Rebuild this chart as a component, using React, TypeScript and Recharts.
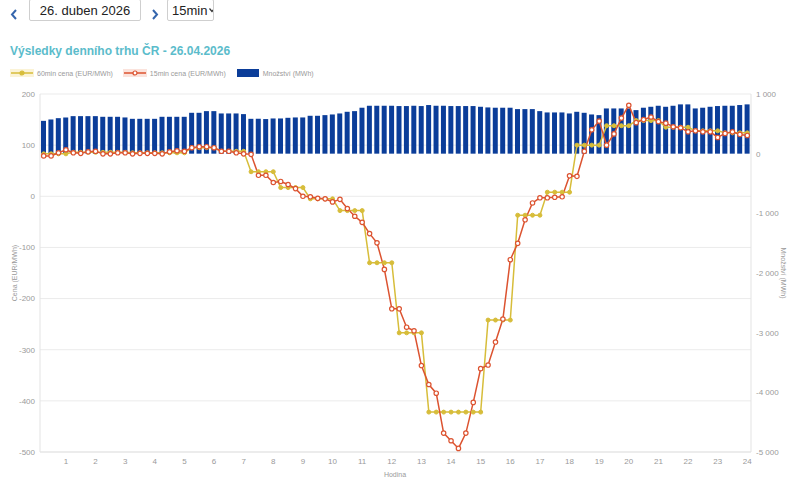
import { ComposedChart, Bar, Line, XAxis, YAxis, CartesianGrid } from "recharts";

// hour labels on the x axis, each hour split into four quarters
const HOURS = [
  "1", "2", "3", "4", "5", "6", "7", "8", "9", "10", "11", "12",
  "13", "14", "15", "16", "17", "18", "19", "20", "21", "22", "23", "24",
];
const QUARTERS = ["15", "30", "45", "60"];

// 60min price per hour (EUR/MWh)
const PRICE_60 = [
  83, 86, 86, 85, 85, 95, 88, 48, 17, -5, -28, -130,
  -267, -422, -422, -242, -37, 8, 100, 138, 148, 135, 128, 124,
];

// 15min price per quarter (EUR/MWh)
const PRICE_15 = [
  79, 79, 85, 91, 85, 84, 87, 88,
  83, 83, 85, 85, 83, 84, 84, 84,
  83, 87, 89, 88, 95, 97, 97, 95,
  88, 88, 85, 83, 82, 41, 41, 27,
  29, 23, 15, 0, -1, -4, -5, -11,
  -6, -24, -39, -51, -73, -91, -143, -220,
  -220, -256, -263, -331, -368, -385, -463, -478,
  -493, -463, -403, -337, -330, -285, -240, -124,
  -92, -46, -13, -3, -3, -2, -1, 40,
  39, 88, 130, 147, 100, 122, 153, 178,
  144, 150, 155, 146, 143, 136, 134, 126,
  128, 126, 126, 115, 123, 126, 121, 119,
];

// traded volume per quarter (MWh)
const VOLUME = [
  550, 573, 595, 607, 629, 629, 629, 629, 618, 618, 618, 607,
  584, 584, 584, 584, 618, 618, 618, 618, 685, 685, 713, 713,
  674, 674, 674, 663, 584, 584, 580, 590, 590, 601, 607, 607,
  635, 635, 646, 657, 674, 702, 713, 770, 803, 803, 803, 803,
  798, 798, 803, 798, 815, 803, 803, 798, 798, 798, 798, 786,
  775, 770, 770, 770, 747, 747, 747, 713, 691, 691, 691, 674,
  702, 685, 657, 646, 758, 758, 758, 758, 730, 770, 786, 803,
  786, 803, 826, 826, 758, 770, 786, 798, 803, 803, 815, 826,
];

const PRICE_TICKS = [-500, -400, -300, -200, -100, 0, 100, 200];
const VOLUME_TICKS = [-5000, -4000, -3000, -2000, -1000, 0, 1000];

const YELLOW = "#d7bd3a";
const RED = "#dc5330";
const BLUE = "#0b3d99";
const TEAL = "#5bbccb";
const AXIS_TEXT = "#9a9a9a";
const FONT = "'Liberation Sans', Arial, sans-serif";

const data = HOURS.flatMap((h, hi) =>
  QUARTERS.map((q, qi) => {
    const i = hi * 4 + qi;
    return {
      slot: `${h}-${q}`,
      p60: PRICE_60[hi],
      p15: PRICE_15[i],
      volume: VOLUME[i],
    };
  })
);

const hourTicks = HOURS.map((h) => `${h}-60`);

// "1 000" style with a non-breaking space so the tick text never wraps
const fmtVolume = (v: number) => {
  const s = Math.abs(v).toString().replace(/\B(?=(\d{3})+(?!\d))/g, "\u00a0");
  return v < 0 ? `-${s}` : s;
};

const tickStyle = { fontSize: 8, fill: AXIS_TEXT, fontFamily: FONT };

function Chevron({ dir }: { dir: "left" | "right" }) {
  const pts = dir === "left" ? "6,1 2,5.5 6,10" : "2,1 6,5.5 2,10";
  return (
    <svg width={8} height={11}>
      <polyline points={pts} fill="none" stroke="#3566ad" strokeWidth={2} />
    </svg>
  );
}

function LegendItem({ kind, text }: { kind: "yellow" | "red" | "bar"; text: string }) {
  return (
    <div style={{ display: "flex", alignItems: "center", marginRight: 10 }}>
      <svg width={24} height={10} style={{ marginRight: 3 }}>
        {kind === "bar" ? (
          <rect x={1} y={1} width={22} height={8} fill={BLUE} />
        ) : (
          <>
            <rect x={0} y={1} width={24} height={8} fill={kind === "yellow" ? "#fbf3d6" : "#fbe3dc"} />
            <line x1={1} y1={5} x2={23} y2={5} stroke={kind === "yellow" ? YELLOW : RED} strokeWidth={1.5} />
            <circle
              cx={12}
              cy={5}
              r={2}
              fill={kind === "yellow" ? YELLOW : "#fff"}
              stroke={kind === "yellow" ? YELLOW : RED}
              strokeWidth={1.2}
            />
          </>
        )}
      </svg>
      <span style={{ fontSize: 7, color: AXIS_TEXT }}>{text}</span>
    </div>
  );
}

export default function App() {
  return (
    <div
      style={{
        position: "absolute",
        left: 0,
        top: 0,
        width: 800,
        height: 482,
        background: "#fff",
        fontFamily: FONT,
        overflow: "hidden",
      }}
    >
      {/* date picker row */}
      <div style={{ position: "absolute", left: 10, top: 6 }}>
        <Chevron dir="left" />
      </div>
      <div
        style={{
          position: "absolute",
          left: 29,
          top: -1,
          width: 112,
          height: 22,
          border: "1px solid #cfcfcf",
          borderRadius: 2,
          boxSizing: "border-box",
          display: "flex",
          alignItems: "center",
          justifyContent: "center",
          fontSize: 13,
          color: "#222",
        }}
      >
        26. duben 2026
      </div>
      <div style={{ position: "absolute", left: 151, top: 6 }}>
        <Chevron dir="right" />
      </div>
      <div
        style={{
          position: "absolute",
          left: 167,
          top: -1,
          width: 47,
          height: 22,
          border: "1px solid #cfcfcf",
          borderRadius: 2,
          boxSizing: "border-box",
          display: "flex",
          alignItems: "center",
          paddingLeft: 4,
          fontSize: 13,
          color: "#222",
        }}
      >
        15min
        <svg width={6} height={5} style={{ marginLeft: 2 }}>
          <polyline points="0.5,0.5 3,3.5 5.5,0.5" fill="none" stroke="#333" strokeWidth={1.2} />
        </svg>
      </div>

      {/* title */}
      <div
        style={{
          position: "absolute",
          left: 10,
          top: 44,
          fontSize: 12,
          fontWeight: "bold",
          color: TEAL,
          whiteSpace: "nowrap",
        }}
      >
        Výsledky denního trhu ČR - 26.04.2026
      </div>

      {/* legend */}
      <div style={{ position: "absolute", left: 10, top: 68, display: "flex" }}>
        <LegendItem kind="yellow" text="60min cena (EUR/MWh)" />
        <LegendItem kind="red" text="15min cena (EUR/MWh)" />
        <LegendItem kind="bar" text="Množství (MWh)" />
      </div>

      <div style={{ position: "absolute", left: 0, top: 0 }}>
        <ComposedChart
          width={800}
          height={482}
          data={data}
          margin={{ top: 94, right: 9, bottom: 10, left: 10 }}
        >
          <CartesianGrid yAxisId="price" vertical={false} stroke="#ebebeb" />
          <XAxis
            dataKey="slot"
            ticks={hourTicks}
            interval={0}
            tickFormatter={(v: string) => v.split("-")[0]}
            tick={tickStyle}
            tickLine={false}
            tickSize={0}
            tickMargin={6}
            axisLine={{ stroke: "#e3e3e3" }}
            height={20}
          />
          <YAxis
            yAxisId="price"
            domain={[-500, 200]}
            ticks={PRICE_TICKS}
            tick={tickStyle}
            tickLine={false}
            tickSize={0}
            tickMargin={5}
            axisLine={{ stroke: "#e3e3e3" }}
            width={30}
          />
          <YAxis
            yAxisId="volume"
            orientation="right"
            domain={[-5000, 1000]}
            ticks={VOLUME_TICKS}
            tickFormatter={fmtVolume}
            tick={tickStyle}
            tickLine={false}
            tickSize={0}
            tickMargin={5}
            axisLine={{ stroke: "#e3e3e3" }}
            width={40}
          />
          <Bar yAxisId="volume" dataKey="volume" fill={BLUE} barSize={5} isAnimationActive={false} />
          <Line
            yAxisId="price"
            dataKey="p60"
            stroke={YELLOW}
            strokeWidth={1.5}
            dot={{ r: 2, fill: YELLOW, stroke: YELLOW, strokeWidth: 1 }}
            isAnimationActive={false}
          />
          <Line
            yAxisId="price"
            dataKey="p15"
            stroke={RED}
            strokeWidth={1.5}
            dot={{ r: 2.2, fill: "#fff", stroke: RED, strokeWidth: 1.2 }}
            isAnimationActive={false}
          />
        </ComposedChart>
      </div>

      {/* axis titles */}
      <div
        style={{
          position: "absolute",
          left: 14,
          top: 273,
          transform: "translate(-50%, -50%) rotate(-90deg)",
          fontSize: 7,
          color: AXIS_TEXT,
          whiteSpace: "nowrap",
        }}
      >
        Cena (EUR/MWh)
      </div>
      <div
        style={{
          position: "absolute",
          left: 783,
          top: 273,
          transform: "translate(-50%, -50%) rotate(90deg)",
          fontSize: 7,
          color: AXIS_TEXT,
          whiteSpace: "nowrap",
        }}
      >
        Množství (MWh)
      </div>
      <div
        style={{
          position: "absolute",
          left: 395,
          top: 474,
          transform: "translate(-50%, -50%)",
          fontSize: 7,
          color: AXIS_TEXT,
        }}
      >
        Hodina
      </div>
    </div>
  );
}
